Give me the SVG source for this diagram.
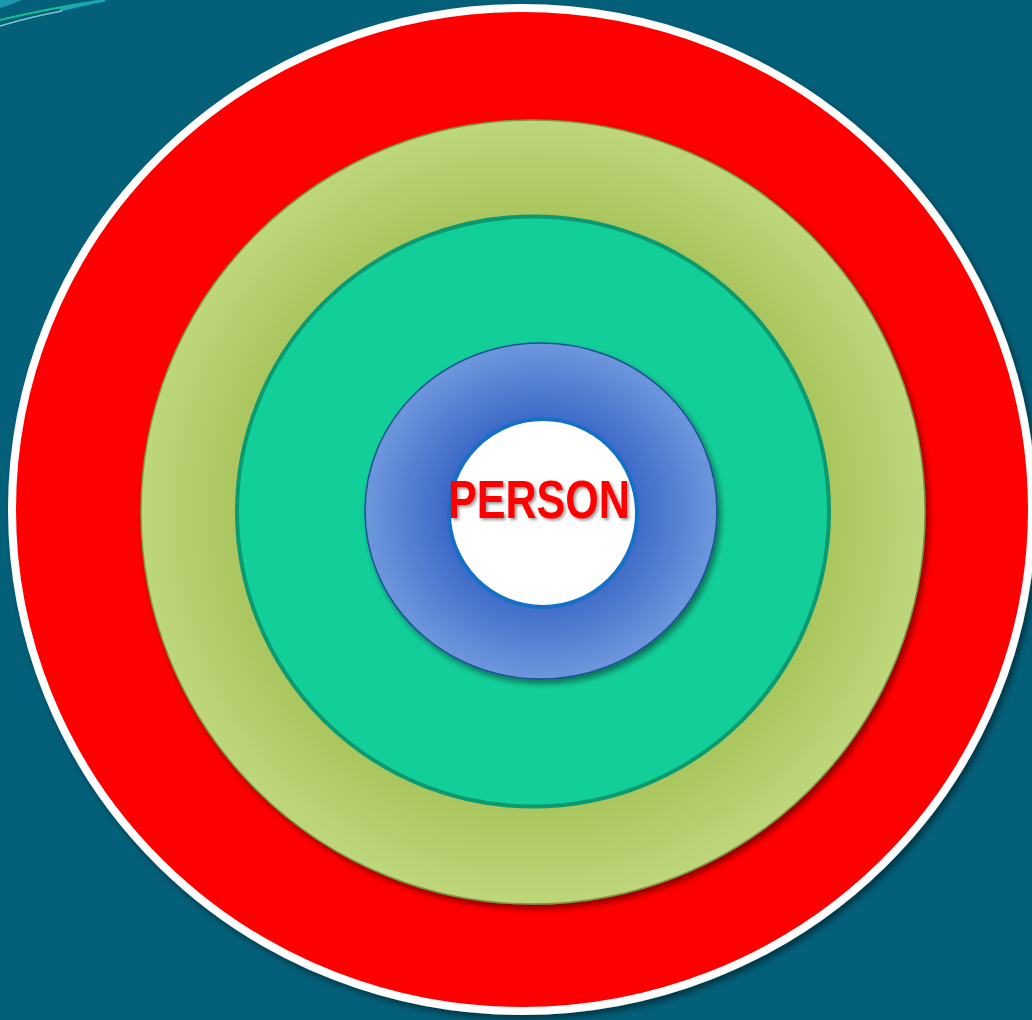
<svg xmlns="http://www.w3.org/2000/svg" width="1032" height="1020" viewBox="0 0 1032 1020">
<defs>
<style>
.txt{font-family:"Liberation Sans",Arial,sans-serif;font-weight:bold;}
</style>
<radialGradient id="olive" cx="50%" cy="50%" r="50%">
<stop offset="0.72" stop-color="#a7c35a"/>
<stop offset="1" stop-color="#bed77c"/>
</radialGradient>
<radialGradient id="blue" cx="50%" cy="50%" r="50%">
<stop offset="0.5" stop-color="#3a66c6"/>
<stop offset="1" stop-color="#6d97dc"/>
</radialGradient>
<filter id="sh" x="-10%" y="-10%" width="120%" height="120%">
<feDropShadow dx="3" dy="4" stdDeviation="3" flood-color="#000" flood-opacity="0.45"/>
</filter>
<filter id="tsh" x="-10%" y="-20%" width="120%" height="140%">
<feDropShadow dx="2" dy="2" stdDeviation="1.5" flood-color="#000" flood-opacity="0.4"/>
</filter>
</defs>
<rect width="1032" height="1020" fill="#045f79"/>
<g id="corner-decor">
<path d="M0,0 L22,0 Q10,5 0,8 Z" fill="#1a98ae"/>
<path d="M0,20 Q50,8 105,0" fill="none" stroke="#17c08f" stroke-width="2"/>
<path d="M60,10 Q85,4 105,0" fill="none" stroke="#1aa6b8" stroke-width="3"/>
<path d="M0,26 Q30,17 62,11" fill="none" stroke="#7cc6d6" stroke-width="1.5"/>
</g>
<g id="ring-outer">
<ellipse cx="522" cy="509.5" rx="510" ry="501.5" fill="#ff0000" stroke="#ffffff" stroke-width="8" filter="url(#sh)"/>
</g>
<g id="ring-olive">
<ellipse cx="533" cy="512" rx="392" ry="392" fill="url(#olive)" stroke="#7d9b3c" stroke-width="1.5" filter="url(#sh)"/>
</g>
<g id="ring-teal">
<ellipse cx="533" cy="511.5" rx="296" ry="295" fill="#12cf9a" stroke="#0b9a70" stroke-width="4"/>
</g>
<g id="ring-blue">
<ellipse cx="541" cy="511" rx="176" ry="168" fill="url(#blue)" stroke="#1f4f96" stroke-width="1.5" filter="url(#sh)"/>
</g>
<g id="person">
<circle cx="543" cy="513" r="94" fill="#ffffff" stroke="#1670c8" stroke-width="4"/>
<text class="txt" x="448" y="518" font-size="54" fill="#ff0000" textLength="182" lengthAdjust="spacingAndGlyphs" filter="url(#tsh)">PERSON</text>
</g>
<g id="connectors"/>
</svg>
